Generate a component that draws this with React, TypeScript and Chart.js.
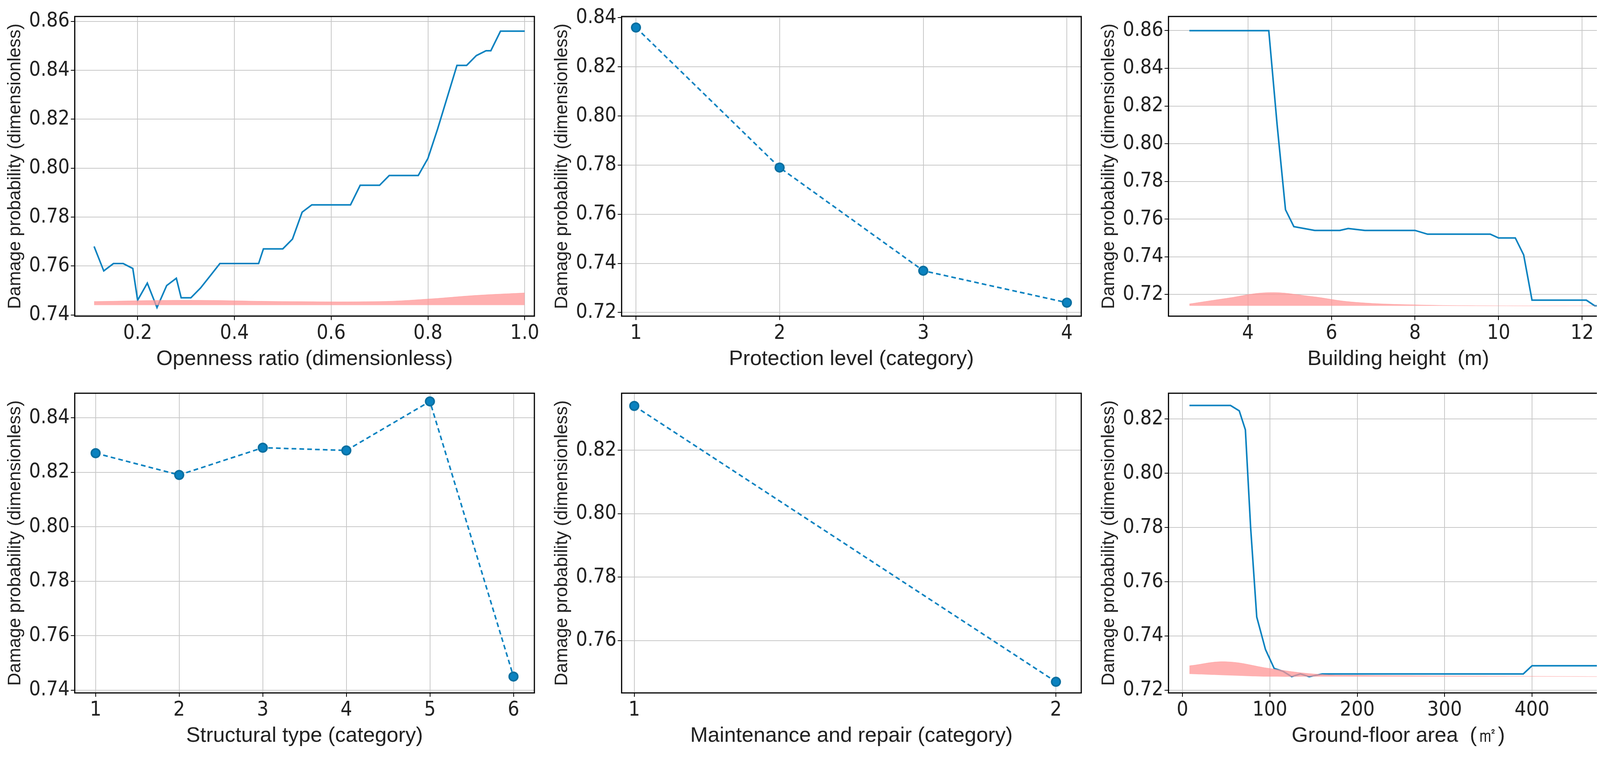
import React, { useEffect, useRef } from "react";
import { Chart, registerables } from "chart.js";
Chart.register(...registerables);

const p1X = [0.11,0.13,0.15,0.17,0.19,0.2,0.22,0.24,0.26,0.28,0.29,0.31,0.33,0.35,0.37,0.45,0.46,0.5,0.52,0.54,0.56,0.64,0.66,0.7,0.72,0.78,0.8,0.82,0.86,0.88,0.9,0.92,0.93,0.95,1.0];
const p1Y = [0.768,0.758,0.761,0.761,0.759,0.746,0.753,0.743,0.752,0.755,0.747,0.747,0.751,0.756,0.761,0.761,0.767,0.767,0.771,0.782,0.785,0.785,0.793,0.793,0.797,0.797,0.804,0.816,0.842,0.842,0.846,0.848,0.848,0.856,0.856];
const p1DX = [0.11,0.3,0.5,0.7,0.8,0.9,1.0];
const p1DTop = [0.7455,0.746,0.7455,0.7455,0.7465,0.748,0.749];
const p1DBase = [0.744,0.744,0.744,0.744,0.744,0.744,0.744];

const p2X = [1,2,3,4];
const p2Y = [0.836,0.779,0.737,0.724];

const p3X = [2.6,4.5,4.7,4.9,5.1,5.6,6.2,6.4,6.8,8.0,8.3,9.8,10.0,10.4,10.6,10.8,12.1,12.3,12.6];
const p3Y = [0.86,0.86,0.81,0.765,0.756,0.754,0.754,0.755,0.754,0.754,0.752,0.752,0.75,0.75,0.741,0.717,0.717,0.714,0.714];
const p3DX = [2.6,3.5,4.5,5.5,6.5,8,10,12.6];
const p3DTop = [0.715,0.718,0.721,0.719,0.716,0.7145,0.714,0.714];
const p3DBase = [0.714,0.714,0.714,0.714,0.714,0.714,0.714,0.714];

const p4X = [1,2,3,4,5,6];
const p4Y = [0.827,0.819,0.829,0.828,0.846,0.745];

const p5X = [1,2];
const p5Y = [0.834,0.747];

const p6X = [8,55,65,72,78,85,95,105,115,125,135,145,160,390,400,485];
const p6Y = [0.825,0.825,0.823,0.816,0.78,0.747,0.735,0.728,0.727,0.725,0.726,0.725,0.726,0.726,0.729,0.729];
const p6DX = [8,50,100,150,200,485];
const p6DTop = [0.729,0.7305,0.728,0.726,0.7255,0.725];
const p6DBase = [0.726,0.7255,0.725,0.725,0.725,0.725];

const BLUE = "#0a82c0";
const PINK = "rgba(255,150,150,0.75)";
const TICKF = { family: "'Liberation Sans Narrow', 'DejaVu Sans Condensed', sans-serif", size: 52 };
const TITLEF = { family: "'Liberation Sans', Arial, sans-serif", size: 54 };

const frame = {
  id: "frame",
  afterDraw(c: any) {
    const a = c.chartArea, ctx = c.ctx;
    ctx.save(); ctx.strokeStyle = "#000"; ctx.lineWidth = 3;
    ctx.strokeRect(a.left, a.top, a.right - a.left, a.bottom - a.top);
    ctx.restore();
  },
};

type P = {
  x: number[]; y: number[]; dashed?: boolean; dx?: number[]; dt?: number[]; db?: number[];
  xmin: number; xmax: number; ymin: number; ymax: number; xstep: number; ystep: number; xtitle: string;
  xdec?: number;
};

function Panel(p: P) {
  const ref = useRef<HTMLCanvasElement>(null);
  useEffect(() => {
    const ds: any[] = [];
    if (p.dx) {
      ds.push({ data: p.dx.map((v, i) => ({ x: v, y: p.db![i] })), borderWidth: 0, pointRadius: 0, fill: false, tension: 0.4 });
      ds.push({ data: p.dx.map((v, i) => ({ x: v, y: p.dt![i] })), borderWidth: 1, borderColor: PINK, backgroundColor: PINK, pointRadius: 0, fill: "-1", tension: 0.4 });
    }
    ds.push({
      data: p.x.map((v, i) => ({ x: v, y: p.y[i] })), borderColor: BLUE, borderWidth: 4,
      borderDash: p.dashed ? [12, 8] : [], pointRadius: p.dashed ? 11 : 0,
      pointBackgroundColor: BLUE, pointBorderColor: "#0a6fa0", fill: false,
    });
    const c = new Chart(ref.current!, {
      type: "line",
      data: { datasets: ds },
      plugins: [frame],
      options: {
        animation: false, responsive: true, maintainAspectRatio: false,
        plugins: { legend: { display: false }, tooltip: { enabled: false } },
        layout: { padding: { top: 20, right: 30 } },
        scales: {
          x: {
            type: "linear", min: p.xmin, max: p.xmax,
            afterBuildTicks: (ax: any) => {
              const t = []; for (let v = Math.ceil(p.xmin / p.xstep) * p.xstep; v <= p.xmax + 1e-9; v += p.xstep) t.push({ value: +v.toFixed(6) });
              ax.ticks = t;
            },
            ticks: { font: TICKF, color: "#222", maxRotation: 0, callback: (v: any) => p.xdec ? Number(v).toFixed(p.xdec) : String(v) },
            grid: { color: "#c8c8c8", lineWidth: 2, tickLength: 10, tickColor: "#000" },
            border: { display: false },
            title: { display: true, text: p.xtitle, font: TITLEF, color: "#222", padding: 0 },
          },
          y: {
            type: "linear", min: p.ymin, max: p.ymax,
            afterBuildTicks: (ax: any) => {
              const t = []; for (let v = Math.ceil(p.ymin / p.ystep - 1e-6) * p.ystep; v <= p.ymax + 1e-9; v += p.ystep) t.push({ value: +v.toFixed(6) });
              ax.ticks = t;
            },
            ticks: { font: TICKF, color: "#222", callback: (v: any) => Number(v).toFixed(2) },
            grid: { color: "#c8c8c8", lineWidth: 2, tickLength: 10, tickColor: "#000" },
            border: { display: false },
            title: { display: true, text: "Damage probability (dimensionless)", font: { ...TITLEF, size: 46 }, color: "#222", padding: 4 },
          },
        },
      } as any,
    });
    return () => c.destroy();
  }, []);
  return <div style={{ width: 1390, height: 945, position: "relative" }}><canvas ref={ref} /></div>;
}

export default function App() {
  return (
    <div style={{ display: "grid", gridTemplateColumns: "1390px 1390px 1390px", columnGap: 10, rowGap: 20, background: "#fff", overflow: "hidden" }}>
      <Panel x={p1X} y={p1Y} dx={p1DX} dt={p1DTop} db={p1DBase} xmin={0.07} xmax={1.02} ymin={0.7395} ymax={0.862} xstep={0.2} ystep={0.02} xdec={1} xtitle="Openness ratio (dimensionless)" />
      <Panel x={p2X} y={p2Y} dashed xmin={0.9} xmax={4.1} ymin={0.7185} ymax={0.8405} xstep={1} ystep={0.02} xtitle="Protection level (category)" />
      <Panel x={p3X} y={p3Y} dx={p3DX} dt={p3DTop} db={p3DBase} xmin={2.1} xmax={13.1} ymin={0.7085} ymax={0.8675} xstep={2} ystep={0.02} xtitle="Building height  (m)" />
      <Panel x={p4X} y={p4Y} dashed xmin={0.75} xmax={6.25} ymin={0.739} ymax={0.849} xstep={1} ystep={0.02} xtitle="Structural type (category)" />
      <Panel x={p5X} y={p5Y} dashed xmin={0.97} xmax={2.06} ymin={0.7435} ymax={0.838} xstep={1} ystep={0.02} xtitle="Maintenance and repair (category)" />
      <Panel x={p6X} y={p6Y} dx={p6DX} dt={p6DTop} db={p6DBase} xmin={-16} xmax={510} ymin={0.719} ymax={0.8295} xstep={100} ystep={0.02} xtitle="Ground-floor area  (㎡)" />
    </div>
  );
}
